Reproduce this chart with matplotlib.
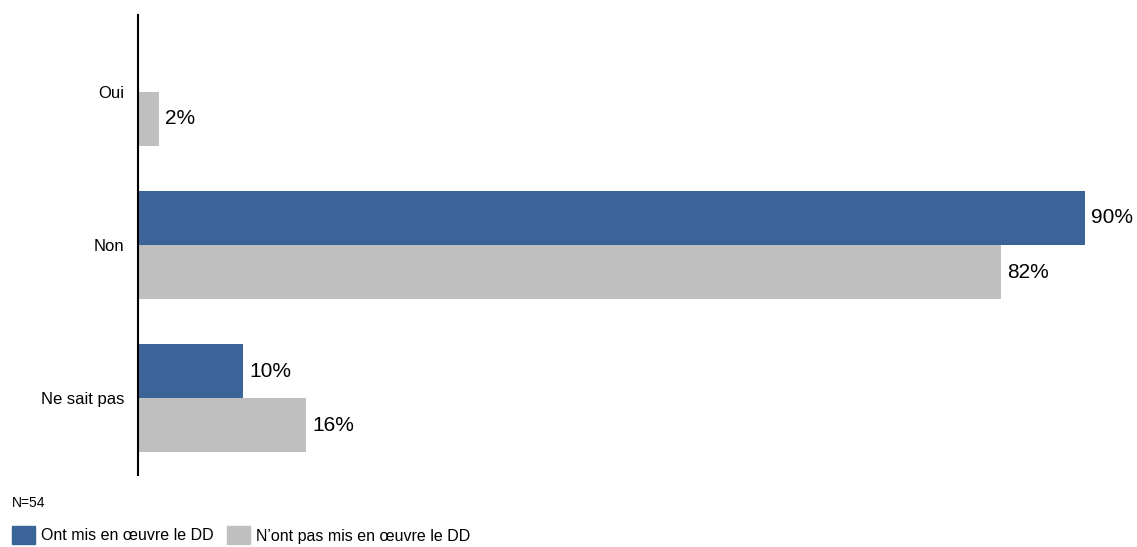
import matplotlib.pyplot as plt
from matplotlib.patches import Rectangle
import numpy as np

plt.rcParams['font.family'] = ['Liberation Sans', 'DejaVu Sans']

categories = ['Oui', 'Non', 'Ne sait pas']
ont_mis = [0, 90, 10]          # Ont mis en œuvre le DD
ont_pas_mis = [2, 82, 16]      # N'ont pas mis en œuvre le DD
series_names = ['Ont mis en œuvre le DD', 'N\u2019ont pas mis en œuvre le DD']
note = 'N=54'

blue = '#3B6598'
grey = '#BFBFBF'

fig = plt.figure(figsize=(11.37, 5.47), dpi=100)
W, H = 1137, 547
ax = fig.add_axes([138 / W, 1 - 475 / H, (1130 - 138) / W, (475 - 15) / H])

y = np.arange(len(categories))
h = 0.353

for i, v in enumerate(ont_mis):
    if v > 0:
        ax.barh(y[i] - h / 2, v, height=h, color=blue)
        ax.text(v + 0.6, y[i] - h / 2, f'{v}%', va='center', ha='left', fontsize=15)
for i, v in enumerate(ont_pas_mis):
    ax.barh(y[i] + h / 2, v, height=h, color=grey)
    ax.text(v + 0.6, y[i] + h / 2, f'{v}%', va='center', ha='left', fontsize=15)

ax.set_xlim(0, (1130 - 138) / 10.52)
ax.set_ylim(2.503, -0.503)
ax.set_yticks(y)
ax.set_yticklabels(categories, fontsize=12)
ax.tick_params(axis='y', length=0, pad=10)
ax.set_xticks([])
for s in ['top', 'right', 'bottom']:
    ax.spines[s].set_visible(False)
ax.spines['left'].set_linewidth(1.5)

# note and legend
fig.text(12 / W, 1 - 503 / H, note, fontsize=10, va='center', ha='left')
fig.patches.append(Rectangle((12 / W, 1 - 544 / H), 23 / W, 18 / H,
                             transform=fig.transFigure, color=blue))
fig.text(41 / W, 1 - 536 / H, series_names[0], fontsize=11.5, va='center', ha='left')
fig.patches.append(Rectangle((227 / W, 1 - 544 / H), 23 / W, 18 / H,
                             transform=fig.transFigure, color=grey))
fig.text(256 / W, 1 - 536 / H, series_names[1], fontsize=11.5, va='center', ha='left')

fig.savefig('out.png', dpi=100)
